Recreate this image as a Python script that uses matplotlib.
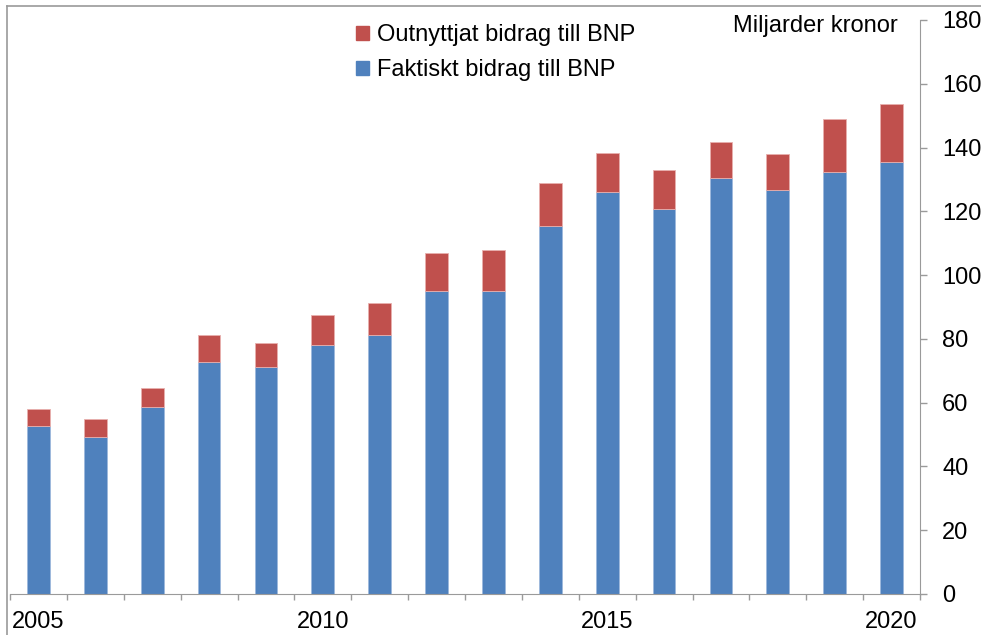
import matplotlib
matplotlib.use('Agg')
import matplotlib.pyplot as plt
from matplotlib.lines import Line2D
from matplotlib.patches import Patch

plt.rcParams['font.family'] = ['Liberation Sans', 'DejaVu Sans']

# Data (miljarder kronor)
years = list(range(2005, 2021))
faktiskt = [52.6, 49.3, 58.7, 72.7, 71.2, 78.1, 81.2, 95.0, 95.0, 115.3, 126.0, 120.8, 130.5, 126.6, 132.4, 135.6]
totalt = [58.0, 54.9, 64.7, 81.2, 78.7, 87.5, 91.2, 106.9, 107.8, 128.8, 138.4, 133.0, 141.7, 137.9, 148.8, 153.8]
outnyttjat = [t - f for t, f in zip(totalt, faktiskt)]
year_labels = ['2005', '2010', '2015', '2020']

blue = '#4F81BD'
red = '#C0504D'
grey = '#9A9A9A'

W, H = 981, 635
fig = plt.figure(figsize=(W / 100, H / 100), dpi=100)
ax = fig.add_axes([10 / W, (H - 594) / H, (920 - 10) / W, (594 - 20) / H])

x = list(range(len(years)))
ax.bar(x, faktiskt, width=0.4, color=blue, edgecolor='#9DB8DC', linewidth=0.6)
ax.bar(x, outnyttjat, bottom=faktiskt, width=0.4, color=red, edgecolor='#E8B0AE', linewidth=0.6)

ax.set_xlim(-0.5, len(years) - 0.5)
ax.set_ylim(0, 180)

# x axis: boundary ticks, labels every fifth year
ax.set_xticks([i - 0.5 for i in range(len(years) + 1)], minor=True)
ax.set_xticks([years.index(int(y)) for y in year_labels])
ax.set_xticklabels(year_labels)
ax.tick_params(axis='x', which='minor', direction='out', length=4.5, color=grey, width=1)
ax.tick_params(axis='x', which='major', length=0, pad=12, labelsize=17)

# y axis on the right
ax.yaxis.tick_right()
ax.set_yticks(range(0, 181, 20))
ax.tick_params(axis='y', direction='out', length=5, color=grey, width=1, pad=11, labelsize=17)

for s in ['top', 'left']:
    ax.spines[s].set_visible(False)
ax.spines['bottom'].set_color(grey)
ax.spines['right'].set_color(grey)
ax.spines['right'].set_bounds(0, 180)

# chart border (cropped)
fig.add_artist(Line2D([7 / W, 7 / W], [0, (H - 6) / H], color=grey, lw=1.2))
fig.add_artist(Line2D([7 / W, 1], [(H - 6) / H, (H - 6) / H], color=grey, lw=1.2))

fig.text(898 / W, (H - 26) / H, 'Miljarder kronor', ha='right', va='center', fontsize=17)

handles = [Patch(color=red), Patch(color=blue)]
ax.legend(handles, ['Outnyttjat bidrag till BNP', 'Faktiskt bidrag till BNP'],
          loc='upper left', bbox_to_anchor=(356 / W, (H - 24) / H), bbox_transform=fig.transFigure,
          frameon=False, fontsize=17, handlelength=0.55, handleheight=0.55,
          handletextpad=0.35, labelspacing=0.55, borderaxespad=0, borderpad=0)

fig.savefig('out.png', dpi=100)
